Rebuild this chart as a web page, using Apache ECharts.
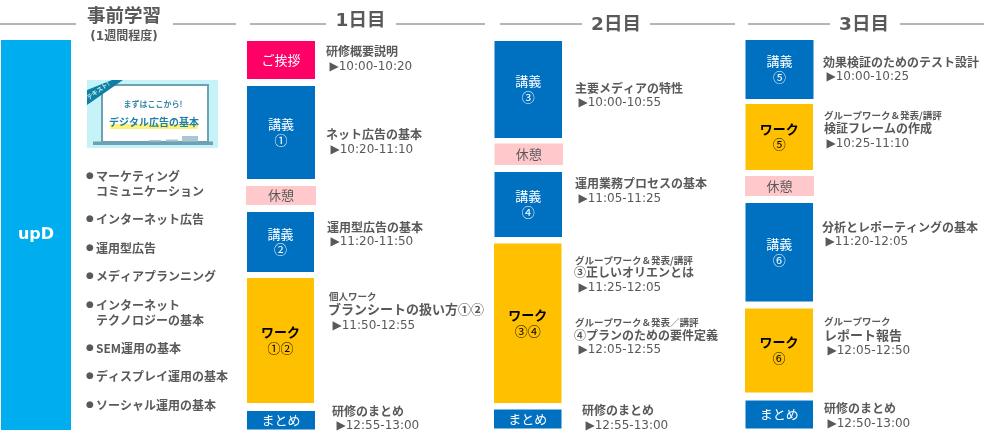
<!DOCTYPE html>
<html><head><meta charset="utf-8">
<style>html,body{margin:0;padding:0;background:#fff}#c{width:1000px;height:441px}</style>
<script src="https://cdn.jsdelivr.net/npm/echarts@6/dist/echarts.min.js"></script>
</head><body><div id="c"></div>
<script>
// ---- data ----
const vendorBlock = [[1, 71, 40, 430, 'upD', '', 'vendor']];
const day1Blocks = [
  [247, 315, 41, 79, 'ご挨拶', '', 'greet'],
  [247, 315, 86, 179, '講義', '①', 'lecture'],
  [246, 316, 186, 205, '休憩', '', 'rest'],
  [247, 314, 212, 272, '講義', '②', 'lecture'],
  [247, 314, 278, 403, 'ワーク', '①②', 'work'],
  [247, 315, 411, 429.5, 'まとめ', '', 'lecture']
];
const day2Blocks = [
  [494.5, 562, 41, 138, '講義', '③', 'lecture'],
  [494.5, 563, 143.5, 165, '休憩', '', 'rest'],
  [494.5, 562, 172, 237, '講義', '④', 'lecture'],
  [494, 561.5, 243.5, 403, 'ワーク', '③④', 'work'],
  [494, 561.5, 409.5, 428.5, 'まとめ', '', 'lecture']
];
const day3Blocks = [
  [745.5, 813.5, 40, 99, '講義', '⑤', 'lecture'],
  [745.5, 813, 104, 170, 'ワーク', '⑤', 'work'],
  [745, 814, 176, 196, '休憩', '', 'rest'],
  [745.5, 813, 203, 301.5, '講義', '⑥', 'lecture'],
  [745, 813, 308.5, 392.5, 'ワーク', '⑥', 'work'],
  [745.5, 813, 400.5, 428.5, 'まとめ', '', 'lecture']
];
const headerTexts = [
  [124, 17.5, '事前学習', 'head'], [124, 37, '(1週間程度)', 'sub'],
  [360.5, 21.5, '1日目', 'head'], [616, 25.5, '2日目', 'head'], [864, 25.5, '3日目', 'head']
];
const headerRules = [
  [0, 76, 24], [173, 236, 24], [250, 326, 24], [396, 485, 24],
  [500, 582, 24], [650, 735, 24], [748, 830, 24], [900, 984, 24]
];
const prepBullets = [
  [90, 176, '●'], [90, 219, '●'], [90, 248, '●'], [90, 276, '●'],
  [90, 305, '●'], [90, 348, '●'], [90, 376, '●'], [90, 405, '●']
];
const prepTopics = [
  [96, 176, 'マーケティング'], [96, 191, 'コミュニケーション'], [96, 219, 'インターネット広告'],
  [96, 248, '運用型広告'], [96, 276, 'メディアプランニング'], [96, 305, 'インターネット'],
  [96, 320, 'テクノロジーの基本'], [96, 348, 'SEM運用の基本'], [96, 376, 'ディスプレイ運用の基本'],
  [96, 405, 'ソーシャル運用の基本']
];
const day1Texts = [
  [326, 51, '研修概要説明', 'title'], [329.5, 66.5, '▶10:00-10:20', 'time'],
  [326, 134, 'ネット広告の基本', 'title'], [330.5, 149.5, '▶10:20-11:10', 'time'],
  [327, 227, '運用型広告の基本', 'title'], [330.5, 242, '▶11:20-11:50', 'time'],
  [329, 296, '個人ワーク', 'small'], [328, 309, 'ブランシートの扱い方①②', 'big'], [332.5, 325.5, '▶11:50-12:55', 'time'],
  [332, 411, '研修のまとめ', 'title'], [336.5, 425.5, '▶12:55-13:00', 'time']
];
const day2Texts = [
  [575, 88, '主要メディアの特性', 'title'], [578.5, 102.5, '▶10:00-10:55', 'time'],
  [575, 183, '運用業務プロセスの基本', 'title'], [578.5, 198.5, '▶11:05-11:25', 'time'],
  [575, 260, 'グループワーク＆発表/講評', 'small'], [574, 272, '③正しいオリエンとは', 'title'], [578.5, 287.5, '▶11:25-12:05', 'time'],
  [575, 322, 'グループワーク＆発表／講評', 'small'], [574, 335, '④プランのための要件定義', 'title'], [578.5, 349.5, '▶12:05-12:55', 'time'],
  [582, 410, '研修のまとめ', 'title'], [585.5, 425.5, '▶12:55-13:00', 'time']
];
const day3Texts = [
  [823, 62, '効果検証のためのテスト設計', 'title'], [826.5, 76.5, '▶10:00-10:25', 'time'],
  [824, 115, 'グループワーク＆発表/講評', 'small'], [824, 128, '検証フレームの作成', 'title'], [826.5, 143.5, '▶10:25-11:10', 'time'],
  [822, 227, '分析とレポーティングの基本', 'title'], [825.5, 241.5, '▶11:20-12:05', 'time'],
  [824, 321, 'グループワーク', 'small'], [824, 335, 'レポート報告', 'big'], [827.5, 350.5, '▶12:05-12:50', 'time'],
  [824, 408, '研修のまとめ', 'title'], [827.5, 423.5, '▶12:50-13:00', 'time']
];
const bookRects = [
  [87, 218, 80, 148, 'sky'], [101, 209, 84, 143, 'frame'], [103, 207, 86, 141, 'board'],
  [93, 213, 141.5, 145, 'frame'], [110, 198, 124, 129, 'mark'],
  [149, 161, 140, 141.5, 'pale'], [166, 178, 139.5, 141.5, 'pale'], [182, 198, 136, 141.5, 'pale']
];
const bookRibbon = [[87, 90], [112, 80], [123, 80], [87, 105]];
const bookTexts = [
  [98, 90.5, 'テキスト!', 'tag'], [153, 104, 'まずはここから!', 'bookA'], [154, 122, 'デジタル広告の基本', 'bookB']
];

// ---- styles ----
const CJK = '"Noto Sans CJK JP","DejaVu Sans",sans-serif';
const LAT = '"DejaVu Sans","Noto Sans CJK JP",sans-serif';
const GREY = '#595959';
const fills = {vendor:'#00AEEF', greet:'#FF0066', lecture:'#0070C0', rest:'#FFC9CC', work:'#FFC000'};
const labelColors = {vendor:'#fff', greet:'#fff', lecture:'#fff', rest:GREY, work:'#000'};
const bookFills = {sky:'#C6F3F8', frame:'#6FA0B4', pale:'#A9C6D2', board:'#fff', mark:'#FFF27A'};
const roles = {
  head:{size:18.5, weight:'bold', font:LAT, fill:GREY, align:'center'},
  sub:{size:12, weight:'bold', font:LAT, fill:GREY, align:'center'},
  dot:{size:9, weight:'normal', font:LAT, fill:GREY, align:'center'},
  topic:{size:12, weight:'bold', font:CJK, fill:GREY, align:'left'},
  title:{size:12, weight:'bold', font:CJK, fill:GREY, align:'left'},
  big:{size:13, weight:'bold', font:CJK, fill:GREY, align:'left'},
  small:{size:9.5, weight:'bold', font:CJK, fill:GREY, align:'left'},
  time:{size:12, weight:'normal', font:LAT, fill:GREY, align:'left'},
  tag:{size:6, weight:'bold', font:CJK, fill:'#BFF0E0', align:'center', rotation:0.62},
  bookA:{size:8, weight:'bold', font:CJK, fill:'#3C86A6', align:'center'},
  bookB:{size:10, weight:'bold', font:CJK, fill:'#1C7FA6', align:'center'}
};

// ---- renderers ----
function blockItem(row, api) {
  const [x0, x1, y0, y1, name, num, kind] = row;
  const a = api.coord([x0, y0]), b = api.coord([x1, y1]);
  const cx = (a[0] + b[0]) / 2, cy = (a[1] + b[1]) / 2;
  const big = kind === 'vendor', bold = big || kind === 'work';
  const kids = [
    {type:'rect', shape:{x:a[0], y:a[1], width:b[0]-a[0], height:b[1]-a[1]}, style:{fill:fills[kind]}},
    {type:'text', style:{x:cx, y:num ? cy-8 : cy, text:name, align:'center', verticalAlign:'middle',
      fill:labelColors[kind], font:(bold?'bold ':'')+(big?16:13)+'px '+(big?LAT:CJK)}}
  ];
  if (num) kids.push({type:'text', style:{x:cx, y:cy+7.5, text:num, align:'center', verticalAlign:'middle',
    fill:labelColors[kind], font:'13px '+CJK}});
  return {type:'group', children:kids};
}
function textItem(row, api) {
  const c = api.coord([row[0], row[1]]);
  const r = roles[row[3]];
  return {type:'text', x:c[0], y:c[1], rotation:r.rotation||0,
    style:{x:0, y:0, text:row[2], align:r.align, verticalAlign:'middle', fill:r.fill,
      font:r.weight+' '+r.size+'px '+r.font}};
}
function ruleItem(row, api) {
  const a = api.coord([row[0], row[2]]), b = api.coord([row[1], row[2]]);
  return {type:'line', shape:{x1:a[0], y1:a[1], x2:b[0], y2:b[1]}, style:{stroke:'#6b6b6b', lineWidth:1}};
}
function rectItem(row, api) {
  const a = api.coord([row[0], row[2]]), b = api.coord([row[1], row[3]]);
  return {type:'rect', shape:{x:a[0], y:a[1], width:b[0]-a[0], height:b[1]-a[1]}, style:{fill:bookFills[row[4]]}};
}
function ribbonItem(row, api) {
  return {type:'polygon', shape:{points:bookRibbon.map(q => api.coord(q))}, style:{fill:'#0F7FA6'}};
}
function addSeries(render, rows, yDim) {
  return {type:'custom', silent:true, animation:false, clip:false, coordinateSystem:'cartesian2d',
    renderItem:(p, api) => render(rows[p.dataIndex], api),
    data:rows.map(r => r.filter(v => typeof v === 'number')), encode:{x:0, y:yDim}};
}
const withRole = (rows, role) => rows.map(r => [r[0], r[1], r[2], role]);
const allBlocks = vendorBlock.concat(day1Blocks, day2Blocks, day3Blocks);
const allTexts = [...headerTexts, ...withRole(prepBullets, 'dot'), ...withRole(prepTopics, 'topic'),
  ...day1Texts, ...day2Texts, ...day3Texts];

const chart = echarts.init(document.getElementById('c'), null, {renderer:'canvas'});
chart.setOption({
  animation:false,
  backgroundColor:'#fff',
  grid:{left:0, right:0, top:0, bottom:0},
  xAxis:{type:'value', min:0, max:1000, show:false},
  yAxis:{type:'value', min:0, max:441, inverse:true, show:false},
  series:[
    addSeries(blockItem, allBlocks, 2),
    addSeries(ruleItem, headerRules, 2),
    addSeries(rectItem, bookRects, 2),
    addSeries(ribbonItem, bookRibbon.slice(0,1), 1),
    addSeries(textItem, bookTexts, 1),
    addSeries(textItem, allTexts, 1)
  ]
});
</script></body></html>
